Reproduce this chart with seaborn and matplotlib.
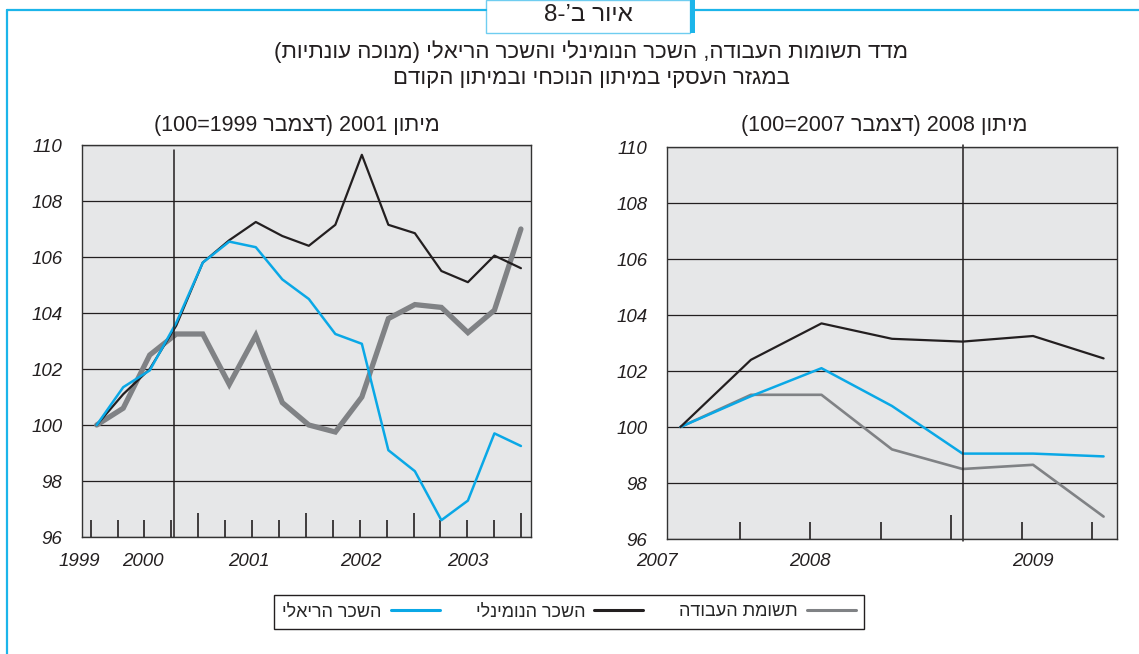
"""
איור ב'-8 — מדד תשומות העבודה, השכר הנומינלי והשכר הריאלי
שני פאנלים: מיתון 2001 ומיתון 2008.
"""

import re

import matplotlib
matplotlib.use("Agg")
import matplotlib.pyplot as plt
from matplotlib.lines import Line2D
from matplotlib.patches import Rectangle
import matplotlib.transforms as mtransforms
import numpy as np
import pandas as pd
import seaborn as sns


# ============================================================
# נתונים (נקראו מהתרשים)
# ============================================================
# מיתון 2001 — נתונים רבעוניים, דצמבר 1999 = 100
LEFT_LABOR = [100.0, 100.6, 102.5, 103.25, 103.25, 101.45, 103.2, 100.8,
              100.0, 99.75, 101.0, 103.8, 104.3, 104.2, 103.3, 104.1, 107.0]
LEFT_NOMINAL = [100.0, 101.1, 102.0, 103.55, 105.8, 106.6, 107.25, 106.75,
                106.4, 107.15, 109.65, 107.15, 106.85, 105.5, 105.1, 106.05,
                105.6]
LEFT_REAL = [100.0, 101.35, 101.95, 103.65, 105.8, 106.55, 106.35, 105.2,
             104.5, 103.25, 102.9, 99.1, 98.35, 96.6, 97.3, 99.7, 99.25]

# מיתון 2008 — דצמבר 2007 = 100
RIGHT_LABOR = [100.0, 101.15, 101.15, 99.2, 98.5, 98.65, 96.8]
RIGHT_NOMINAL = [100.0, 102.4, 103.7, 103.15, 103.05, 103.25, 102.45]
RIGHT_REAL = [100.0, 101.1, 102.1, 100.75, 99.05, 99.05, 98.95]

LEFT_YEARS = ["1999", "2000", "2001", "2002", "2003"]
RIGHT_YEARS = ["2007", "2008", "2009"]
Y_TICKS = [96, 98, 100, 102, 104, 106, 108, 110]

FIG_NUMBER = "איור ב’-8"
TITLE_1 = "מדד תשומות העבודה, השכר הנומינלי והשכר הריאלי (מנוכה עונתיות)"
TITLE_2 = "במגזר העסקי במיתון הנוכחי ובמיתון הקודם"
LEFT_TITLE = "מיתון 2001 (דצמבר 1999=100)"
RIGHT_TITLE = "מיתון 2008 (דצמבר 2007=100)"
LABEL_LABOR = "תשומת העבודה"
LABEL_NOMINAL = "השכר הנומינלי"
LABEL_REAL = "השכר הריאלי"

# ============================================================
# עיצוב
# ============================================================
W, H = 1139, 654
C_LABOR = "#808285"
C_NOMINAL = "#231f20"
C_REAL = "#0aa8e6"
C_FRAME = "#1cb5ea"
C_BG = "#e6e7e8"
TXT = "#231f20"

sns.set_theme(style="white")
plt.rcParams["font.family"] = ["Liberation Sans", "DejaVu Sans"]


def rtl(s):
    """היפוך מחרוזת עברית לסדר חזותי (matplotlib לא תומך ב-bidi)."""
    out = s[::-1]
    out = re.sub(r"[0-9]+", lambda m: m.group(0)[::-1], out)
    return out.translate(str.maketrans("()", ")("))


def fx(px):
    return px / W


def fy(py):
    return 1 - py / H


fig = plt.figure(figsize=(W / 100, H / 100), dpi=100)
fig.patch.set_facecolor("white")

# מסגרת כחולה ותיבת כותרת
frame_kw = dict(color=C_FRAME, lw=1.6, transform=fig.transFigure)
fig.add_artist(Line2D([fx(7), fx(486)], [fy(10), fy(10)], **frame_kw))
fig.add_artist(Line2D([fx(695), fx(W)], [fy(10), fy(10)], **frame_kw))
fig.add_artist(Line2D([fx(7), fx(7)], [fy(10), fy(H)], **frame_kw))
fig.add_artist(Rectangle((fx(486), fy(33)), fx(690) - fx(486), fy(0) - fy(33),
                         transform=fig.transFigure, facecolor="white",
                         edgecolor="#6fcdf0", lw=1.0))
fig.add_artist(Rectangle((fx(690), fy(33)), fx(695) - fx(690), fy(0) - fy(33),
                         transform=fig.transFigure, facecolor=C_FRAME,
                         edgecolor="none"))
fig.text(fx(588), fy(15), rtl(FIG_NUMBER), ha="center", va="center",
         fontsize=17.5, color=TXT)

fig.text(fx(591), fy(52), rtl(TITLE_1), ha="center", va="center",
         fontsize=16, color=TXT)
fig.text(fx(591), fy(78), rtl(TITLE_2), ha="center", va="center",
         fontsize=16, color=TXT)
fig.text(fx(297), fy(125), rtl(LEFT_TITLE), ha="center", va="center",
         fontsize=15.5, color=TXT)
fig.text(fx(884), fy(125), rtl(RIGHT_TITLE), ha="center", va="center",
         fontsize=15.5, color=TXT)


def style_axes(ax, xlim, short_ticks, tall_ticks, year_pos, years, year_y):
    ax.set_facecolor(C_BG)
    for sp in ax.spines.values():
        sp.set_color("#333333")
        sp.set_linewidth(1.0)
    ax.set_ylim(96, 110)
    ax.set_xlim(*xlim)
    ax.set_yticks(Y_TICKS)
    ax.set_yticklabels([str(v) for v in Y_TICKS], fontstyle="italic",
                       fontsize=13.5, color=TXT)
    ax.yaxis.grid(True, color=TXT, lw=0.9)
    ax.xaxis.grid(False)
    ax.set_axisbelow(True)
    ax.tick_params(axis="y", length=0, pad=14)
    ax.set_xticks(tall_ticks)
    ax.set_xticks(short_ticks, minor=True)
    ax.set_xticklabels([])
    ax.tick_params(axis="x", which="major", direction="in", length=17,
                   width=1.2, color=TXT, bottom=True, top=False)
    ax.tick_params(axis="x", which="minor", direction="in", length=12,
                   width=1.2, color=TXT, bottom=True, top=False)
    ax.set_xlabel("")
    ax.set_ylabel("")
    trans = mtransforms.blended_transform_factory(ax.transData, ax.transAxes)
    for xp, yr in zip(year_pos, years):
        ax.text(xp, year_y, yr, transform=trans, ha="center", va="center",
                fontsize=13.5, fontstyle="italic", color=TXT)


# ============================================================
# פאנל שמאלי — מיתון 2001
# ============================================================
ax1 = fig.add_axes([fx(81.7), fy(537), fx(531) - fx(81.7), fy(145) - fy(537)])
df_left = pd.DataFrame({
    "q": np.arange(len(LEFT_REAL)),
    "labor": LEFT_LABOR,
    "nominal": LEFT_NOMINAL,
    "real": LEFT_REAL,
})
sns.lineplot(data=df_left, x="q", y="labor", ax=ax1, color=C_LABOR, lw=3.8,
             solid_joinstyle="miter")
sns.lineplot(data=df_left, x="q", y="nominal", ax=ax1, color=C_NOMINAL, lw=1.6)
sns.lineplot(data=df_left, x="q", y="real", ax=ax1, color=C_REAL, lw=1.8)
ax1.axvline(2.93, ymin=0, ymax=0.987, color=TXT, lw=1.1)

left_all = np.linspace(-0.23, 16.01, 17)
left_tall = left_all[4::4]
left_short = np.delete(left_all, [4, 8, 12, 16])
style_axes(ax1, (-0.566, 16.38), left_short, left_tall,
           [-0.66, 1.74, 5.74, 9.97, 13.99], LEFT_YEARS, -0.063)

# ============================================================
# פאנל ימני — מיתון 2008
# ============================================================
ax2 = fig.add_axes([fx(667), fy(539), fx(1117) - fx(667), fy(147) - fy(539)])
df_right = pd.DataFrame({
    "q": np.arange(len(RIGHT_REAL)),
    "labor": RIGHT_LABOR,
    "nominal": RIGHT_NOMINAL,
    "real": RIGHT_REAL,
})
sns.lineplot(data=df_right, x="q", y="labor", ax=ax2, color=C_LABOR, lw=1.9)
sns.lineplot(data=df_right, x="q", y="real", ax=ax2, color=C_REAL, lw=1.8)
sns.lineplot(data=df_right, x="q", y="nominal", ax=ax2, color=C_NOMINAL, lw=1.6)
ax2.axvline(4, ymin=-0.006, ymax=1.005, color=TXT, lw=1.1, clip_on=False)

right_all = np.arange(6) + 0.84
style_axes(ax2, (-0.19, 6.19), np.delete(right_all, 3), right_all[3:4],
           [-0.33, 1.83, 5.0], RIGHT_YEARS, -0.058)

# ============================================================
# מקרא
# ============================================================
handles = [
    Line2D([], [], color=C_REAL, lw=2.2),
    Line2D([], [], color=C_NOMINAL, lw=2.2),
    Line2D([], [], color=C_LABOR, lw=2.2),
]
labels = [rtl(LABEL_REAL), rtl(LABEL_NOMINAL), rtl(LABEL_LABOR)]
leg = fig.legend(handles, labels, ncol=3, markerfirst=False, loc="center",
                 bbox_to_anchor=(fx(569), fy(612)), fontsize=13,
                 frameon=True, fancybox=False, edgecolor=TXT,
                 framealpha=1, handlelength=2.7, handletextpad=0.5,
                 columnspacing=2.0, borderpad=0.45)
leg.get_frame().set_linewidth(1.0)

fig.savefig("out.png", dpi=100, facecolor="white")
